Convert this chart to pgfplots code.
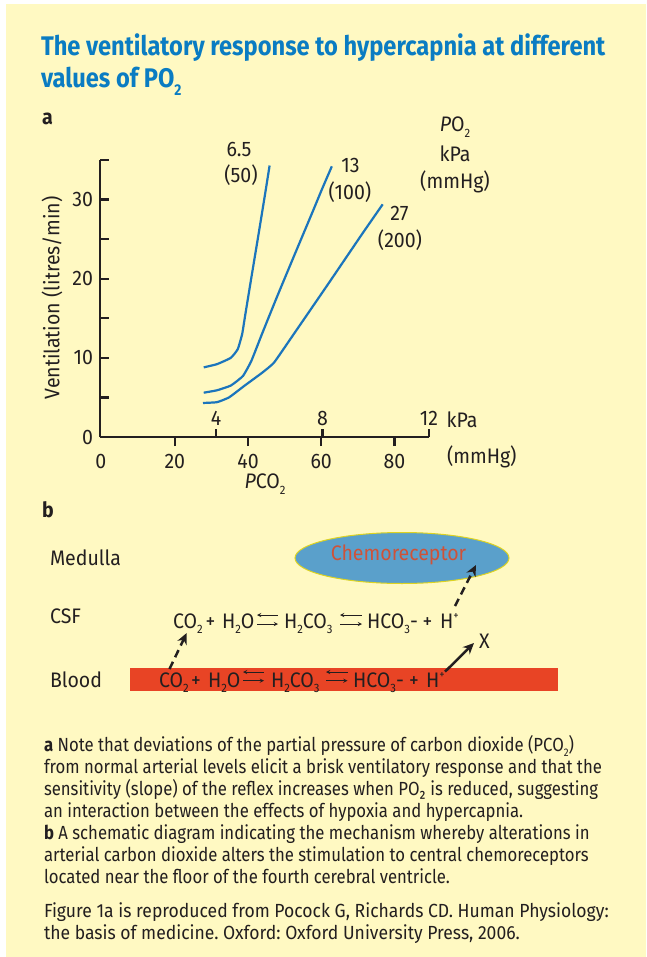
\documentclass[border=0pt]{standalone}
\usepackage{fontspec}
\setmainfont{Fira Sans}[FakeStretch=0.88]
\newfontfamily\cf{Fira Sans}[FakeStretch=0.93]
\usepackage{pgfplots}
\usetikzlibrary{arrows.meta}
\pgfplotsset{compat=1.18}
\definecolor{panel}{HTML}{FFF9C2}
\definecolor{titleblue}{HTML}{0A7CC2}
\definecolor{curve}{HTML}{1B75BC}
\definecolor{ink}{HTML}{231F20}
\definecolor{ell}{HTML}{5AA0CB}
\definecolor{chem}{HTML}{CF5238}
\definecolor{bar}{HTML}{E84425}
\newcommand{\sub}[1]{\raisebox{-0.5ex}{\scalebox{0.58}{#1}}}
\newcommand{\sps}[1]{\raisebox{0.75ex}{\scalebox{0.55}{#1}}}
\newcommand{\sbs}{\cf\fontsize{21}{24}\selectfont}
\newcommand{\body}{\fontsize{19}{22}\selectfont}
\frenchspacing
\begin{document}
\begin{tikzpicture}[every node/.style={inner sep=0pt,outer sep=0pt,text=ink}]
\useasboundingbox (0pt,0pt) rectangle (646pt,-957pt);
\fill[white] (0pt,0pt) rectangle (646pt,-957pt);
\fill[panel] (6pt,-4pt) rectangle (646pt,-957pt);
\begin{scope}[x=1pt,y=-1pt]
\node[anchor=base west,text=titleblue,font=\fontsize{26.9}{30}\selectfont\bfseries] at (41,56) {The ventilatory response to hypercapnia at different};
\node[anchor=base west,text=titleblue,font=\fontsize{26.9}{30}\selectfont\bfseries] at (41,88) {values of PO\sub{2}};
\node[anchor=base west,font=\sbs\bfseries] at (42,125) {a};
\node[anchor=base west,font=\sbs\bfseries] at (42,517) {b};
\end{scope}
\begin{axis}[
  at={(100pt,-437pt)},anchor=south west,scale only axis,
  width=329pt,height=277pt,
  xmin=-0.44,xmax=89.45,ymin=0,ymax=35,
  axis x line=bottom,axis y line=left,
  axis line style={-,line width=2.4pt,color=ink},
  xtick={20,40,60,80},
  ytick={0,5,10,15,20,25,30,35},
  yticklabels={0,,10,,20,,30,},
  x tick style={line width=2.4pt,color=ink,draw=ink},
  y tick style={line width=2.4pt,color=ink,draw=ink},
  xtick align=outside,ytick align=inside,
  major tick length=9pt,
  tick label style={font=\sbs,text=ink},
  /pgf/number format/assume math mode=true,
  xticklabel style={yshift=-8pt},
  yticklabel style={xshift=-7pt},
  clip=false,
]
\addplot[curve,line width=2.2pt,smooth,tension=0.25] coordinates {(27.9,8.8)(31.5,9.2)(35.3,10)(37.2,11.1)(38.4,13)(39.2,15.3)(40.9,20.1)(42.8,25.4)(44.7,30.8)(45.9,34.3)};
\addplot[curve,line width=2.2pt,smooth,tension=0.25] coordinates {(27.9,5.6)(31.5,5.9)(35.3,6.5)(38.6,7.7)(40.9,9.6)(43.8,13)(48,17.8)(52.6,22.9)(57.6,28.4)(60.2,31.3)(62.9,34.2)};
\addplot[curve,line width=2.2pt,smooth,tension=0.25] coordinates {(27.7,4.3)(31.5,4.4)(34.8,5)(39.1,6.5)(43.8,8.1)(47.1,9.4)(52.2,12.8)(61.7,19.2)(71.1,25.6)(76.8,29.4)};
\node[font=\sbs] at (axis cs:-0.2,-3.05) {0};
\end{axis}
\begin{axis}[
  at={(100pt,-437pt)},anchor=south west,scale only axis,
  width=329pt,height=277pt,
  xmin=-0.357,xmax=12,ymin=0,ymax=35,
  axis x line=bottom,axis y line=none,
  axis line style={draw=none},
  xtick={4,8,12},
  x tick style={line width=2.4pt,draw=ink},
  xtick align=inside,major tick length=8pt,
  tick label style={font=\sbs,text=ink},
  /pgf/number format/assume math mode=true,
  xticklabel style={yshift=26pt},
  clip=false,
]
\addplot[draw=none] coordinates {(4,0)};
\end{axis}
\begin{scope}[x=1pt,y=-1pt,font=\sbs]
\node[rotate=90] at (52,298) {Ventilation (litres/min)};
\node at (239,149) {6.5};
\node at (241,175) {(50)};
\node at (350.5,165) {13};
\node at (350,192) {(100)};
\node at (399.5,213) {27};
\node at (400,240) {(200)};
\node at (455,127) {\textit{P}O\sub{2}};
\node at (455,153.5) {kPa};
\node at (455,182) {(mmHg)};
\node[anchor=west] at (446.6,420) {kPa};
\node[anchor=west] at (447,457) {(mmHg)};
\node at (265,484) {\textit{P}CO\sub{2}};
\node[anchor=base west] at (50,565) {Medulla};
\node[anchor=base west] at (50,623) {CSF};
\node[anchor=base west] at (50,687) {Blood};
\fill[ell,draw=yellow!85!black,line width=1pt] (402,558) ellipse [x radius=107,y radius=25.5];
\node[text=chem] at (398.5,555) {Chemoreceptor};
\fill[bar] (130,668) rectangle (558,691);
% CSF equation
\node[anchor=base west] at (173,628) {CO\sub{2}};
\node[anchor=base west] at (205.6,628) {+};
\node[anchor=base west] at (222,628) {H\sub{2}O};
\draw[ink,line width=0.9pt,<-,>=stealth] (257,615) -- (278,615);
\draw[ink,line width=0.9pt,->,>=stealth] (257,624) -- (278,624);
\node[anchor=base west] at (284,628) {H\sub{2}CO\sub{3}};
\draw[ink,line width=0.9pt,<-,>=stealth] (340,615) -- (362,615);
\draw[ink,line width=0.9pt,->,>=stealth] (340,624) -- (362,624);
\node[anchor=base west] at (367,628) {HCO\sub{3}-};
\node[anchor=base west] at (422.6,628) {+};
\node[anchor=base west] at (440,628) {H\sps{+}};
% Blood equation
\node[anchor=base west] at (159,687) {CO\sub{2}};
\node[anchor=base west] at (191,687) {+};
\node[anchor=base west] at (208,687) {H\sub{2}O};
\draw[ink,line width=0.9pt,<-,>=stealth] (243,672) -- (264,672);
\draw[ink,line width=0.9pt,->,>=stealth] (243,680.7) -- (264,680.7);
\node[anchor=base west] at (271,687) {H\sub{2}CO\sub{3}};
\draw[ink,line width=0.9pt,<-,>=stealth] (326,672) -- (347.5,672);
\draw[ink,line width=0.9pt,->,>=stealth] (326,680.7) -- (347.5,680.7);
\node[anchor=base west] at (353,687) {HCO\sub{3}-};
\node[anchor=base west] at (409,687) {+};
\node[anchor=base west] at (426,687) {H\sps{+}};
\draw[ink,line width=2.5pt,dash pattern=on 8pt off 5pt,-{Stealth[length=11pt,width=10pt]}] (169.5,669) -- (186.7,633);
\draw[ink,line width=2.5pt,dash pattern=on 8pt off 5pt,-{Stealth[length=11pt,width=10pt]}] (455,606) -- (476,565);
\draw[ink,line width=2.5pt,-{Stealth[length=11pt,width=10pt]}] (445,671.7) -- (474,643);
\node at (484.5,641.7) {X};
% notes
\begin{scope}[font=\body]
\node[anchor=base west] at (44,751) {\textbf{a} Note that deviations of the partial pressure of carbon dioxide (PCO\sub{2})};
\node[anchor=base west] at (44,773) {from normal arterial levels elicit a brisk ventilatory response and that the};
\node[anchor=base west] at (44,795) {sensitivity (slope) of the reflex increases when PO₂ is reduced, suggesting};
\node[anchor=base west] at (44,817) {an interaction between the effects of hypoxia and hypercapnia.};
\node[anchor=base west] at (44,839) {\textbf{b} A schematic diagram indicating the mechanism whereby alterations in};
\node[anchor=base west] at (44,861) {arterial carbon dioxide alters the stimulation to central chemoreceptors};
\node[anchor=base west] at (44,883) {located near the floor of the fourth cerebral ventricle.};
\node[anchor=base west] at (44,917) {\scalebox{1.05}[1]{Figure 1a is reproduced from Pocock G, Richards CD. Human Physiology:}};
\node[anchor=base west] at (44,939) {\scalebox{1.05}[1]{the basis of medicine. Oxford: Oxford University Press, 2006.}};
\end{scope}
\end{scope}
\end{tikzpicture}
\end{document}
